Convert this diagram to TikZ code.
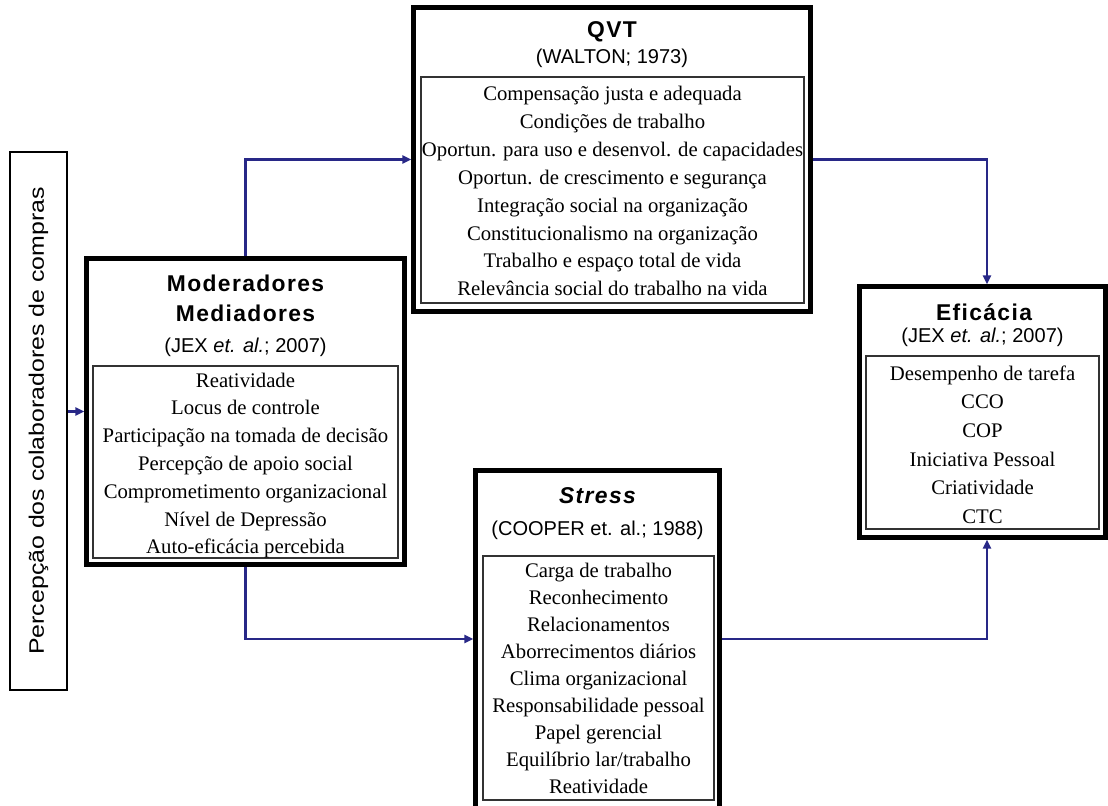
\documentclass[tikz,border=0pt]{standalone}
\usepackage{fontspec}
\setmainfont{Liberation Serif}
\newfontfamily\arialfont{Liberation Sans}
\newfontfamily\titlefont[LetterSpace=6]{Liberation Sans}
\usetikzlibrary{arrows.meta}
\definecolor{arrowblue}{RGB}{40,40,135}
\begin{document}
\begin{tikzpicture}[x=0.02cm,y=-0.02cm,
  frame/.style={draw, line width=1.8pt, inner sep=0pt},
  innerline/.style={line width=0.6pt},
  listbox/.style={draw=black!80, line width=0.7pt, inner sep=0pt},
  listtext/.style={align=center, inner sep=0pt},
  titletext/.style={font=\titlefont\bfseries\fontsize{13}{17}\selectfont, align=center, inner sep=0pt},
  citetext/.style={font=\arialfont\fontsize{11.4}{14}\selectfont, inner sep=0pt},
  conn/.style={draw=arrowblue, line width=1.5pt, -{Triangle[length=1.8mm,width=1.6mm]}},
]
\useasboundingbox (0,0) rectangle (1108,805);
\clip (0,0) rectangle (1108,805);

% left vertical box
\node[draw, line width=0.7pt, minimum width=1.14cm, minimum height=10.76cm, inner sep=0pt] (perc) at (38.5,421) {};
\node[rotate=90, inner sep=0pt, font=\arialfont\fontsize{11.9}{14}\selectfont] (perctext) at (perc.center) {\scalebox{1.19}[1]{Percepção dos colaboradores de compras}};

% Moderadores
\node[frame, minimum width=6.38cm, minimum height=6.14cm] (mod) at (245.5,411.5) {};
\draw[innerline] ([shift={(4,4)}]mod.north west) rectangle ([shift={(-4,-4)}]mod.south east);
\node[listbox, minimum width=6.1cm, minimum height=3.84cm] (modlist) at (245.5,462) {};
\node[titletext] (modtitle) at (245.5,298) {Moderadores\\Mediadores};
\node[citetext] (modcite) at (245.5,347) {(JEX \textit{et. al.}; 2007)};
\node[listtext, font=\fontsize{11.8}{15.8}\selectfont] (modtext) at (245.5,465.5) {Reatividade\\Locus de controle\\Participação na tomada de decisão\\Percepção de apoio social\\Comprometimento organizacional\\Nível de Depressão\\Auto-eficácia percebida};

% QVT
\node[frame, minimum width=7.96cm, minimum height=6.1cm] (qvt) at (612,159.5) {};
\draw[innerline] ([shift={(4,4)}]qvt.north west) rectangle ([shift={(-4,-4)}]qvt.south east);
\node[listbox, minimum width=7.66cm, minimum height=4.52cm] (qvtlist) at (612.5,190) {};
\node[titletext] (qvttitle) at (612,32) {QVT};
\node[citetext] (qvtcite) at (612,58) {(WALTON; 1973)};
\node[listtext, font=\fontsize{11.8}{15.9}\selectfont] (qvttext) at (612.5,191) {Compensação justa e adequada\\Condições de trabalho\\Oportun. para uso e desenvol. de capacidades\\Oportun. de crescimento e segurança\\Integração social na organização\\Constitucionalismo na organização\\Trabalho e espaço total de vida\\Relevância social do trabalho na vida};

% Eficacia
\node[frame, minimum width=4.94cm, minimum height=5.04cm] (efi) at (982.5,412) {};
\draw[innerline] ([shift={(4,4)}]efi.north west) rectangle ([shift={(-4,-4)}]efi.south east);
\node[listbox, minimum width=4.66cm, minimum height=3.46cm] (efilist) at (982.5,442.5) {};
\node[titletext] (efititle) at (984,312) {Eficácia};
\node[citetext] (eficite) at (982.5,337) {(JEX \textit{et. al.}; 2007)};
\node[listtext, font=\fontsize{11.8}{16.3}\selectfont] (efitext) at (982.5,444.5) {Desempenho de tarefa\\CCO\\COP\\Iniciativa Pessoal\\Criatividade\\CTC};

% Stress
\node[frame, minimum width=4.9cm, minimum height=7.2cm] (stress) at (597.5,650) {};
\draw[innerline] ([shift={(4,4)}]stress.north west) rectangle ([shift={(-4,-4)}]stress.south east);
\node[listbox, minimum width=4.62cm, minimum height=4.88cm] (stresslist) at (598.5,678) {};
\node[titletext] (stresstitle) at (597.5,496) {\itshape Stress};
\node[citetext] (stresscite) at (597.5,530) {(COOPER et. al.; 1988)};
\node[listtext, font=\fontsize{11.8}{15.4}\selectfont] (stresstext) at (598.5,678.5) {Carga de trabalho\\Reconhecimento\\Relacionamentos\\Aborrecimentos diários\\Clima organizacional\\Responsabilidade pessoal\\Papel gerencial\\Equilíbrio lar/trabalho\\Reatividade};

% connectors
\draw[conn] (perc.east |- mod.west) -- (mod.west);
\draw[conn] (mod.north) |- (qvt.west);
\draw[conn] (qvt.east) -| ([xshift=0.09cm]efi.north);
\draw[conn] (mod.south) |- ([yshift=0.22cm]stress.west);
\draw[conn] ([yshift=0.22cm]stress.east) -| ([xshift=0.09cm]efi.south);
\end{tikzpicture}
\end{document}
